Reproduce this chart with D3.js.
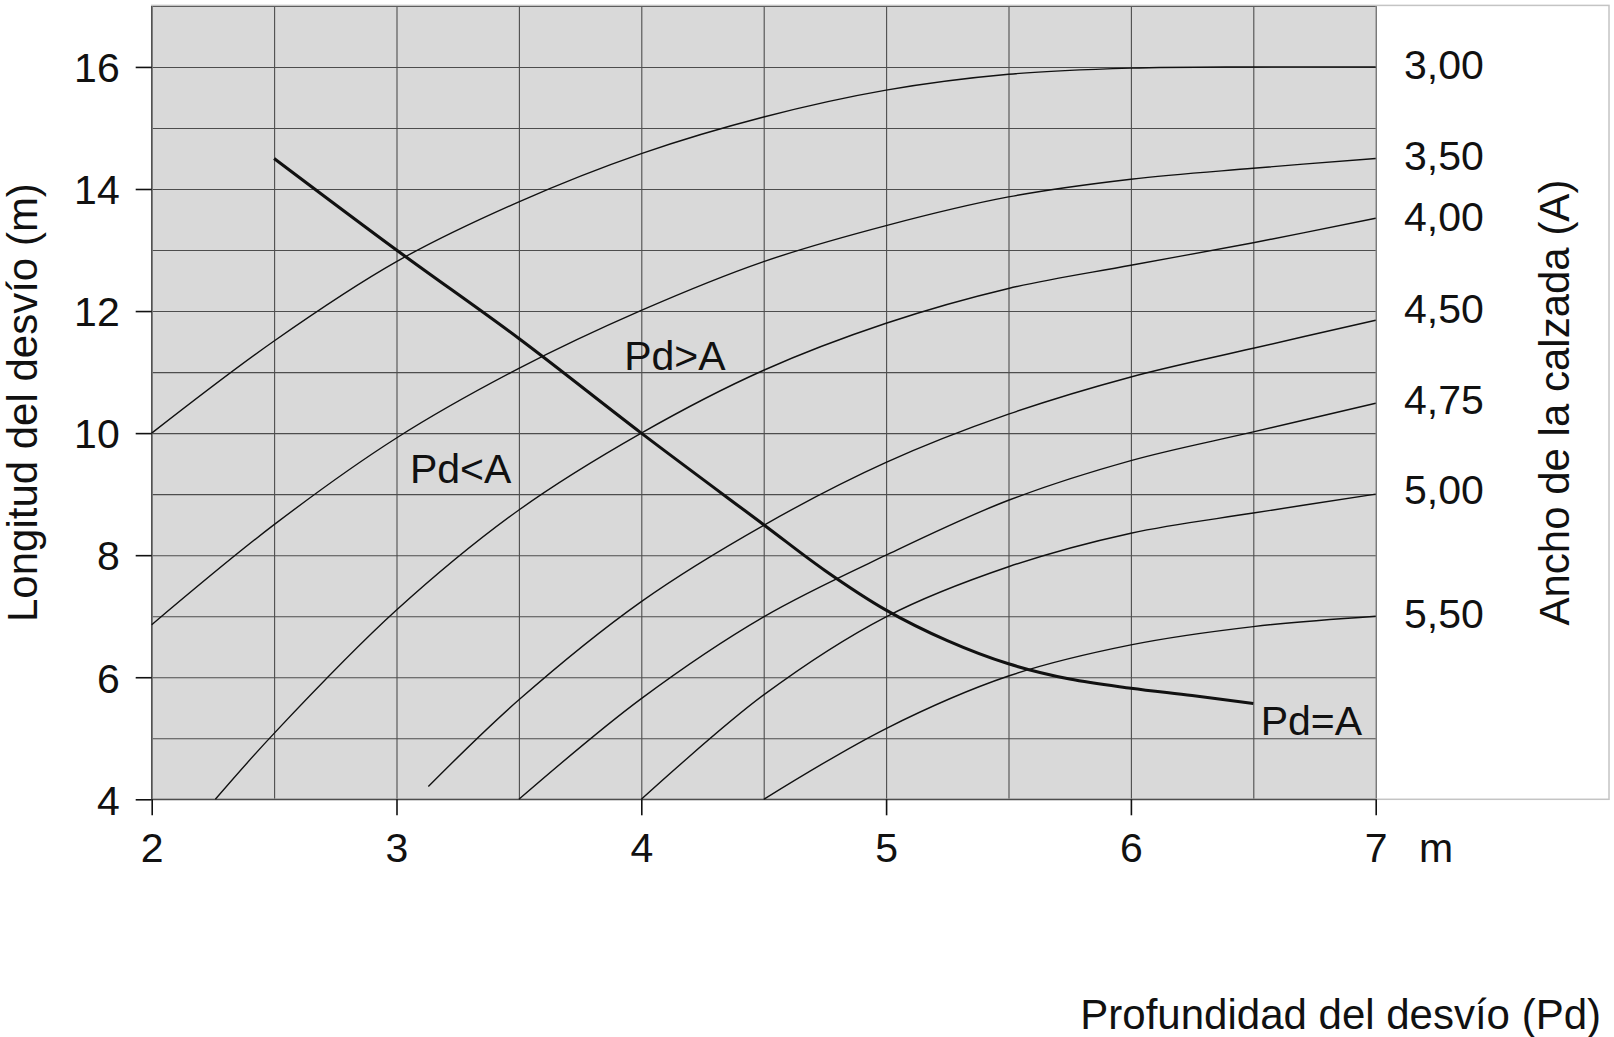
<!DOCTYPE html>
<html>
<head>
<meta charset="utf-8">
<script src="https://cdn.jsdelivr.net/npm/d3@7"></script>
<style>
  html, body { margin: 0; padding: 0; background: #fff; }
  svg { display: block; }
  text { font-family: "Liberation Sans", Arial, sans-serif; fill: #111; }
</style>
</head>
<body>
<svg id="chart" width="1614" height="1037"></svg>
<script>
// ---------- data ----------
const xTicks = [2, 3, 4, 5, 6, 7];
const yTicks = [4, 6, 8, 10, 12, 14, 16];
const anchos = ["3,00", "3,50", "4,00", "4,50", "4,75", "5,00", "5,50"];
const anchoLabelY = [16.04, 14.55, 13.56, 12.04, 10.56, 9.08, 7.05];

const curveA300 = [[2,10],[2.5,11.51],[3,12.81],[3.5,13.79],[4,14.58],[4.5,15.18],[5,15.62],[5.5,15.88],[6,15.98],[6.5,16.0],[7,16.0]];
const curveA350 = [[2,6.86],[2.5,8.5],[3,9.92],[3.5,11.06],[4,12.01],[4.5,12.81],[5,13.4],[5.5,13.87],[6,14.16],[6.5,14.34],[7,14.5]];
const curveA400 = [[2.26,4.0],[2.5,5.08],[3,7.1],[3.5,8.74],[4,10.0],[4.5,11.03],[5,11.8],[5.5,12.37],[6,12.75],[6.5,13.12],[7,13.52]];
const curveA450 = [[3.13,4.21],[3.5,5.63],[4,7.24],[4.5,8.49],[5,9.52],[5.5,10.31],[6,10.92],[6.5,11.39],[7,11.85]];
const curveA475 = [[3.5,4.0],[4,5.65],[4.5,6.99],[5,8.0],[5.5,8.9],[6,9.55],[6.5,10.02],[7,10.49]];
const curveA500 = [[4,4.0],[4.5,5.71],[5,6.99],[5.5,7.81],[6,8.36],[6.5,8.69],[7,9.0]];
const curveA550 = [[4.5,4.0],[5,5.16],[5.5,6.02],[6,6.53],[6.5,6.83],[7,7.0]];
const curvePdA  = [[2.5,14.5],[3,13.0],[3.5,11.55],[4,10.0],[4.5,8.5],[4.75,7.75],[5,7.1],[5.25,6.6],[5.5,6.22],[5.75,5.97],[6,5.82],[6.25,5.7],[6.5,5.57]];

const regionLabels = ["Pd>A", "Pd<A", "Pd=A"];
const regionX = [3.93, 3.055, 6.53];
const regionY = [11.03, 9.18, 5.05];

const xTitle = "Profundidad del desvío (Pd)";
const yTitle = "Longitud del desvío (m)";
const y2Title = "Ancho de la calzada (A)";
const xUnit = "m";

// ---------- layout ----------
const svg = d3.select("#chart");
const X0 = 151.7, X1 = 1375.7, Y0 = 5.9, Y1 = 799.3;
const x = d3.scaleLinear().domain([2, 7]).range([X0, X1]);
const y = d3.scaleLinear().domain([4, 17]).range([Y1, Y0]);
const FS = 41, TFS = 42;

// outer white panel
svg.append("rect")
  .attr("x", X0).attr("y", Y0 - 0.5).attr("width", 1609 - X0).attr("height", Y1 - Y0 + 0.5)
  .attr("fill", "#fff");
// plot background
svg.append("rect")
  .attr("x", X0).attr("y", Y0).attr("width", X1 - X0).attr("height", Y1 - Y0)
  .attr("fill", "#d9d9d9");

// grid via axes
const gridX = svg.append("g").attr("transform", `translate(0,${Y1})`)
  .call(d3.axisBottom(x).tickValues(d3.range(2, 7.001, 0.5)).tickSize(-(Y1 - Y0)).tickFormat(""));
const gridY = svg.append("g").attr("transform", `translate(${X0},0)`)
  .call(d3.axisLeft(y).tickValues(d3.range(4, 17.001, 1)).tickSize(-(X1 - X0)).tickFormat(""));
[gridX, gridY].forEach(g => {
  g.select(".domain").remove();
  g.selectAll("line").attr("stroke", "#4d4d4d").attr("stroke-width", 1.1);
});

// outer light border
svg.append("rect")
  .attr("x", X0).attr("y", Y0 - 0.5).attr("width", 1609 - X0).attr("height", Y1 - Y0 + 0.5)
  .attr("fill", "none").attr("stroke", "#c4c4c4").attr("stroke-width", 1.5);
// left plot border & bottom (dark)
svg.append("line").attr("x1", X0).attr("x2", X0).attr("y1", Y0).attr("y2", Y1)
  .attr("stroke", "#4d4d4d").attr("stroke-width", 1.3);
svg.append("line").attr("x1", X0).attr("x2", X1).attr("y1", Y1).attr("y2", Y1)
  .attr("stroke", "#4d4d4d").attr("stroke-width", 1.3);

// curves
const line = d3.line().x(d => x(d[0])).y(d => y(d[1])).curve(d3.curveCatmullRom.alpha(0.5));
const thin = [curveA300, curveA350, curveA400, curveA450, curveA475, curveA500, curveA550];
svg.append("g").selectAll("path").data(thin).join("path")
  .attr("d", line).attr("fill", "none").attr("stroke", "#111").attr("stroke-width", 1.4);
svg.append("path").datum(curvePdA).attr("d", line)
  .attr("fill", "none").attr("stroke", "#111").attr("stroke-width", 3.1);

// axes with labels
const ax = svg.append("g").attr("transform", `translate(0,${Y1})`)
  .call(d3.axisBottom(x).tickValues(xTicks).tickSize(16).tickPadding(18).tickFormat(d3.format("d")));
const ay = svg.append("g").attr("transform", `translate(${X0},0)`)
  .call(d3.axisLeft(y).tickValues(yTicks).tickSize(16).tickPadding(16).tickFormat(d3.format("d")));
[ax, ay].forEach(g => {
  g.select(".domain").remove();
  g.selectAll("line").attr("stroke", "#111").attr("stroke-width", 1.6);
  g.selectAll("text").attr("font-size", FS).attr("font-family", "Liberation Sans, Arial, sans-serif").attr("fill", "#111");
});
ay.selectAll("text").attr("dy", "0.36em");

// unit label next to x axis
svg.append("text").attr("x", 1436).attr("y", Y1 + 16 + 18).attr("dy", "0.71em")
  .attr("text-anchor", "middle").attr("font-size", FS).text(xUnit);

// right labels (Ancho)
svg.append("g").selectAll("text").data(anchos).join("text")
  .attr("x", 1404).attr("y", (d, i) => y(anchoLabelY[i])).attr("dy", "0.36em")
  .attr("font-size", FS).text(d => d);

// region labels
svg.append("g").selectAll("text").data(regionLabels).join("text")
  .attr("x", (d, i) => x(regionX[i])).attr("y", (d, i) => y(regionY[i]))
  .attr("font-size", FS).text(d => d);

// titles
svg.append("text").attr("transform", `translate(37,${(Y0 + Y1) / 2}) rotate(-90)`)
  .attr("text-anchor", "middle").attr("font-size", TFS).text(yTitle);
svg.append("text").attr("transform", `translate(1569,${(Y0 + Y1) / 2}) rotate(-90)`)
  .attr("text-anchor", "middle").attr("font-size", TFS).text(y2Title);
svg.append("text").attr("x", 1601).attr("y", 1029)
  .attr("text-anchor", "end").attr("font-size", TFS).text(xTitle);
</script>
</body>
</html>
